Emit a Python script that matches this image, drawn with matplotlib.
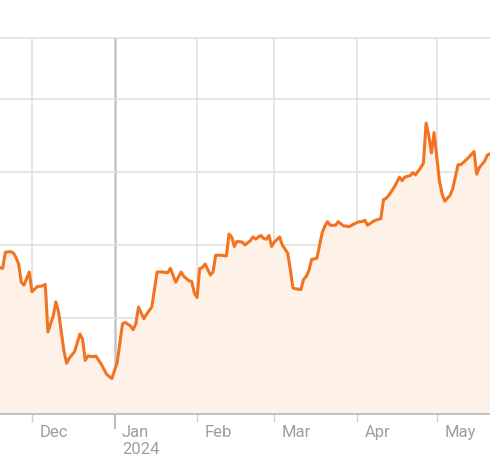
import numpy as np
import matplotlib
matplotlib.use("Agg")
import matplotlib.pyplot as plt
import matplotlib.transforms as mtransforms

# price series (no axis values shown, scale is arbitrary)
dates = [
    "2023-11-19", "2023-11-20", "2023-11-21", "2023-11-23", "2023-11-24", "2023-11-25",
    "2023-11-26", "2023-11-27", "2023-11-28", "2023-11-30", "2023-12-01", "2023-12-03",
    "2023-12-05", "2023-12-06", "2023-12-07", "2023-12-09", "2023-12-10", "2023-12-11",
    "2023-12-13", "2023-12-14", "2023-12-15", "2023-12-17", "2023-12-19", "2023-12-20",
    "2023-12-21", "2023-12-22", "2023-12-24", "2023-12-25", "2023-12-27", "2023-12-29",
    "2023-12-30", "2023-12-31", "2024-01-02", "2024-01-04", "2024-01-05", "2024-01-07",
    "2024-01-08", "2024-01-09", "2024-01-10", "2024-01-12", "2024-01-13", "2024-01-15",
    "2024-01-17", "2024-01-19", "2024-01-21", "2024-01-22", "2024-01-24", "2024-01-25",
    "2024-01-26", "2024-01-27", "2024-01-29", "2024-01-30", "2024-01-31", "2024-02-01",
    "2024-02-02", "2024-02-03", "2024-02-04", "2024-02-06", "2024-02-07", "2024-02-08",
    "2024-02-10", "2024-02-12", "2024-02-13", "2024-02-14", "2024-02-15", "2024-02-16",
    "2024-02-18", "2024-02-19", "2024-02-21", "2024-02-22", "2024-02-23", "2024-02-24",
    "2024-02-25", "2024-02-26", "2024-02-27", "2024-02-28", "2024-02-29", "2024-03-01",
    "2024-03-03", "2024-03-04", "2024-03-06", "2024-03-07", "2024-03-08", "2024-03-09",
    "2024-03-11", "2024-03-12", "2024-03-13", "2024-03-14", "2024-03-15", "2024-03-17",
    "2024-03-19", "2024-03-20", "2024-03-21", "2024-03-22", "2024-03-24", "2024-03-25",
    "2024-03-27", "2024-03-28", "2024-03-29", "2024-03-31", "2024-04-02", "2024-04-03",
    "2024-04-04", "2024-04-05", "2024-04-07", "2024-04-08", "2024-04-10", "2024-04-11",
    "2024-04-12", "2024-04-13", "2024-04-15", "2024-04-17", "2024-04-18", "2024-04-19",
    "2024-04-21", "2024-04-22", "2024-04-23", "2024-04-25", "2024-04-26", "2024-04-27",
    "2024-04-28", "2024-04-29", "2024-04-30", "2024-05-02", "2024-05-03", "2024-05-04",
    "2024-05-06", "2024-05-07", "2024-05-09", "2024-05-10", "2024-05-11", "2024-05-13",
    "2024-05-15", "2024-05-16", "2024-05-17", "2024-05-19", "2024-05-20", "2024-05-21",
]
prices = [
    116.9, 116.8, 119.0, 119.1, 118.9, 118.3,
    117.4, 114.9, 114.5, 116.3, 113.6, 114.3,
    114.4, 114.6, 108.1, 110.3, 112.2, 110.8,
    105.5, 103.8, 104.5, 105.4, 107.8, 107.1,
    104.2, 104.8, 104.7, 104.8, 103.7, 102.3,
    102.0, 101.7, 103.9, 109.2, 109.4, 108.9,
    108.4, 109.2, 111.5, 109.9, 110.5, 111.5,
    116.3, 116.3, 116.2, 116.8, 114.9, 115.6,
    116.3, 115.7, 115.1, 115.0, 113.4, 112.8,
    116.8, 116.9, 117.4, 115.9, 116.3, 118.6,
    118.6, 118.5, 121.5, 121.1, 119.8, 120.5,
    120.4, 120.0, 120.6, 121.1, 120.8, 121.1,
    121.3, 120.9, 120.8, 121.3, 119.8, 120.4,
    121.1, 120.0, 118.9, 116.7, 114.1, 114.0,
    113.9, 115.3, 115.7, 116.5, 118.0, 118.2,
    121.7, 122.6, 123.2, 122.7, 122.7, 123.2,
    122.6, 122.6, 122.5, 122.9, 123.2, 123.2,
    123.4, 122.7, 123.2, 123.4, 123.6, 126.2,
    126.4, 126.8, 127.9, 129.3, 128.8, 129.3,
    129.5, 129.9, 129.6, 130.6, 131.2, 136.7,
    135.0, 132.6, 135.4, 128.8, 127.0, 126.0,
    126.8, 127.7, 131.0, 131.0, 131.3, 132.0,
    132.8, 129.7, 130.6, 131.5, 132.3, 132.5,
]
month_ticks = ["2023-12-01", "2024-01-01", "2024-02-01", "2024-03-01", "2024-04-01", "2024-05-01"]
month_labels = ["Dec", "Jan\n2024", "Feb", "Mar", "Apr", "May"]
grid_values = [110, 120, 130, 140]

x = np.array(dates, dtype="datetime64[D]")
y = np.array(prices)

fig = plt.figure(figsize=(4.9, 4.64), dpi=100)
ax = fig.add_axes([0, 0.1056, 1, 0.8114])

ax.fill_between(x, y, 90, color="#fdf1e8", lw=0, zorder=1.5)
ax.plot(x, y, color="#f27422", lw=2.2, zorder=2)

ax.set_xlim(np.datetime64("2023-11-19"), np.datetime64("2024-05-21"))
ax.set_ylim(96.85, 148.42)

ax.set_yticks(grid_values)
ax.tick_params(axis="y", left=False, labelleft=False)

ax.set_xticks(np.array(month_ticks, dtype="datetime64[D]"))
ax.set_xticklabels(month_labels, fontsize=12, color="#9e9e9e", family="Roboto",
                   linespacing=1.15)
ax.tick_params(axis="x", length=5.8, width=1, color="#d0d0d0", pad=1.5)

ax.set_axisbelow(True)
ax.grid(True, color="#e0e0e0", lw=1.2)

shift = mtransforms.ScaledTranslation(0.075, 0, fig.dpi_scale_trans)
for lab in ax.get_xticklabels():
    lab.set_horizontalalignment("left")
    lab.set_verticalalignment("top")
    lab.set_transform(lab.get_transform() + shift)

# year boundary: darker grid line and longer tick
jan = ax.xaxis.get_major_ticks()[1]
jan.gridline.set_color("#c4c4c4")
jan.gridline.set_linewidth(1.8)
jan.tick1line.set_markersize(10.8)
jan.tick1line.set_markeredgecolor("#bdbdbd")
jan.tick1line.set_markeredgewidth(1.5)

for side in ["left", "right"]:
    ax.spines[side].set_visible(False)
ax.spines["top"].set_color("#e0e0e0")
ax.spines["top"].set_linewidth(1.2)
ax.spines["bottom"].set_color("#bdbdbd")
ax.spines["bottom"].set_linewidth(1.3)
ax.spines["bottom"].set_zorder(3)

fig.savefig("out.png", dpi=100)
